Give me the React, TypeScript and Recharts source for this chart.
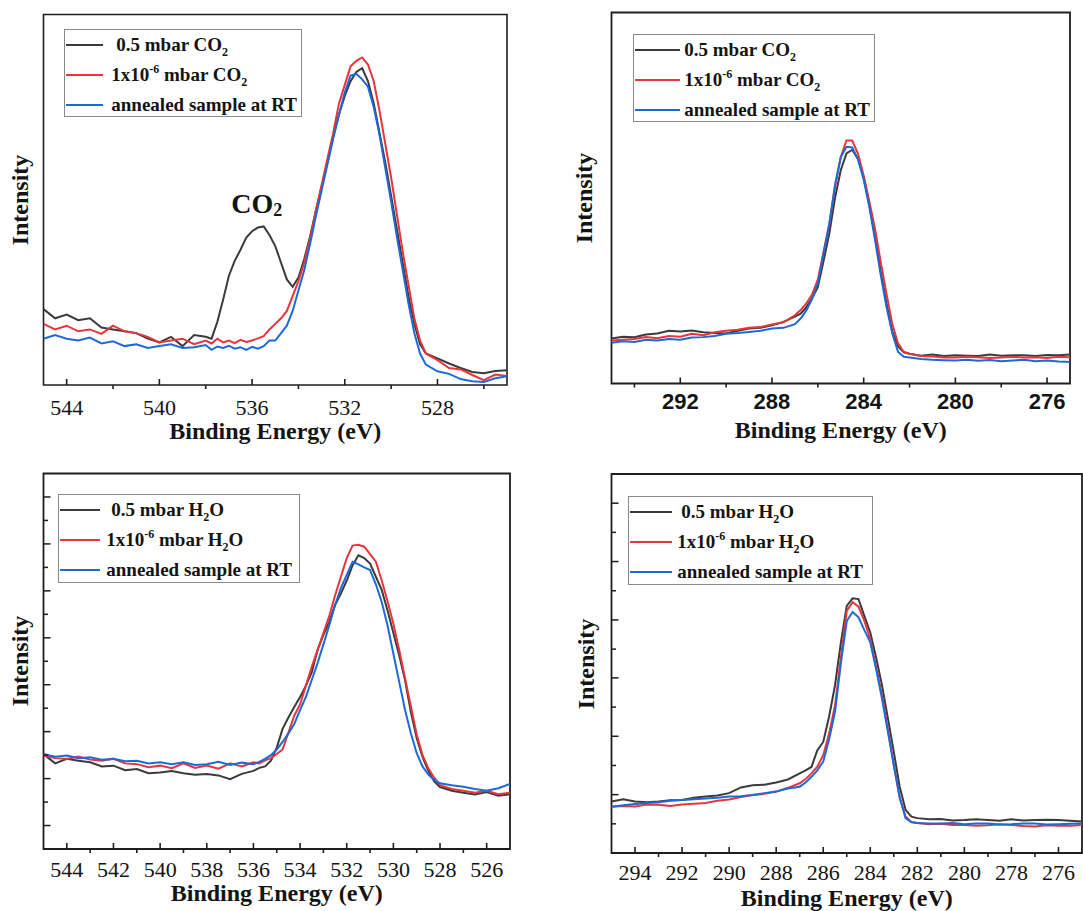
import type { ReactNode } from 'react'
import { LineChart, Line, XAxis, YAxis, ReferenceArea, ReferenceDot, Legend } from 'recharts'

const SERIF = '"Liberation Serif", "Times New Roman", Times, serif'
const SANS = '"Liberation Sans", Arial, Helvetica, sans-serif'
const INK = '#141414'
const FRAME = '#1e1e1e'
const COLORS = { high: '#3b3b3b', low: '#e8343b', ann: '#1d6ad6' }

// Binding energies in eV; intensities normalised to the frame height (0-100).

// O 1s, CO2 exposure
const o1sCo2Energy = [545, 544.5, 544, 543.5, 543, 542.5, 542, 541.5, 541, 540.5, 540, 539.5, 539, 538.5, 538,
  537.75, 537.5, 537.25, 537, 536.75, 536.5, 536.25, 536, 535.75, 535.5, 535.25, 535, 534.75, 534.5, 534.25, 534,
  533.75, 533.5, 533.25, 533, 532.75, 532.5, 532.25, 532, 531.75, 531.5, 531.25, 531, 530.75, 530.5, 530.25, 530,
  529.75, 529.5, 529.25, 529, 528.75, 528.5, 528, 527.5, 527, 526.5, 526, 525.5, 525]
const o1sCo2High = [20.5, 18.0, 19.0, 17.5, 18.0, 15.5, 15.0, 14.5, 14.0, 12.5, 11.5, 13.0, 10.5, 13.5, 13.0,
  12.5, 17.0, 23.0, 29.5, 33.5, 36.5, 39.8, 41.5, 42.5, 42.8, 40.5, 37.5, 33.0, 28.5, 26.5, 29.0,
  34.0, 40.0, 47.0, 53.5, 60.0, 67.0, 73.0, 78.0, 82.0, 84.5, 85.5, 82.0, 76.0, 68.0, 60.0, 51.0,
  42.0, 33.0, 24.0, 16.5, 11.0, 8.5, 7.2, 5.8, 4.6, 3.5, 3.2, 3.8, 4.0]
const o1sCo2Low = [16.5, 15.0, 16.0, 14.5, 15.0, 13.8, 16.0, 14.5, 14.0, 13.0, 11.5, 12.0, 12.5, 11.0, 12.0,
  11.2, 12.5, 11.5, 12.0, 11.3, 12.2, 11.6, 12.0, 12.6, 13.2, 15.0, 16.5, 18.0, 20.0, 24.0, 28.0,
  33.0, 39.5, 47.0, 54.0, 61.0, 68.0, 76.0, 81.0, 86.0, 87.5, 88.4, 86.5, 82.0, 74.0, 65.0, 56.0,
  46.0, 36.0, 27.0, 18.0, 12.0, 8.5, 6.7, 4.6, 4.2, 2.7, 1.3, 2.8, 2.4]
const o1sCo2Ann = [12.5, 13.5, 12.5, 12.0, 12.8, 11.2, 11.8, 10.5, 11.0, 10.0, 10.5, 11.0, 10.0, 10.2, 10.8,
  9.5, 10.4, 10.0, 10.6, 9.8, 10.2, 9.5, 10.3, 9.8, 10.5, 12.0, 12.0, 14.0, 16.0, 20.0, 25.5,
  31.0, 38.0, 45.5, 52.5, 59.5, 66.5, 73.0, 79.0, 83.5, 84.0, 82.5, 80.5, 75.0, 67.5, 58.5, 49.5,
  40.0, 31.0, 22.0, 14.0, 8.5, 5.5, 3.7, 3.0, 1.6, 1.0, 0.8, 1.8, 2.4]

// C 1s energy grid (shared by both gases)
const c1sEnergy = [295, 294.5, 294, 293.5, 293, 292.5, 292, 291.5, 291, 290.5, 290, 289.5, 289, 288.5, 288, 287.5, 287,
  286.75, 286.5, 286.25, 286, 285.75, 285.5, 285.25, 285, 284.75, 284.5, 284.25, 284, 283.75, 283.5, 283.25, 283,
  282.75, 282.5, 282.25, 282, 281.5, 281, 280.5, 280, 279.5, 279, 278.5, 278, 277.5, 277, 276.5, 276, 275.5, 275]

// C 1s, CO2 exposure
const c1sCo2High = [12.1, 12.6, 12.5, 13.2, 13.5, 14.2, 14.0, 14.3, 13.8, 13.6, 13.5, 14.2, 14.8, 15.0, 15.7, 16.6, 18.0,
  18.8, 20.6, 23.0, 26.0, 33.0, 40.4, 50.0, 57.5, 62.0, 63.0, 60.5, 55.5, 48.0, 39.5, 30.0, 21.5, 14.0, 10.0, 8.4,
  8.0, 7.5, 7.8, 7.4, 7.6, 7.5, 7.4, 7.8, 7.5, 7.6, 7.6, 7.4, 7.7, 7.6, 7.8]
const c1sCo2Low = [11.6, 11.8, 12.0, 12.5, 12.2, 12.8, 12.6, 13.4, 13.0, 13.8, 14.2, 14.5, 15.0, 15.2, 15.9, 16.5, 18.4,
  19.8, 21.6, 24.0, 28.0, 35.5, 43.0, 53.0, 61.0, 65.5, 65.5, 62.0, 56.0, 49.0, 41.5, 32.5, 24.0, 16.0, 10.8, 8.5,
  8.0, 7.4, 7.3, 7.0, 7.0, 7.2, 7.1, 6.9, 7.0, 7.2, 7.0, 7.1, 6.9, 7.2, 7.1]
const c1sCo2Ann = [11.0, 11.4, 11.2, 11.8, 11.6, 12.0, 11.8, 12.4, 12.5, 12.8, 13.4, 13.6, 13.9, 14.2, 14.8, 15.0, 16.0,
  17.5, 19.7, 22.8, 27.0, 35.0, 43.0, 53.5, 61.0, 63.8, 63.6, 60.5, 55.0, 47.5, 38.5, 29.0, 20.5, 13.5, 8.5, 7.2,
  7.0, 6.6, 6.4, 6.3, 6.2, 6.4, 6.1, 6.3, 6.0, 6.2, 6.4, 6.0, 6.2, 5.9, 5.8]

// O 1s, H2O exposure
const o1sH2oEnergy = [545, 544.5, 544, 543.5, 543, 542.5, 542, 541.5, 541, 540.5, 540, 539.5, 539, 538.5, 538, 537.5, 537, 536.5, 536,
  535.75, 535.5, 535.25, 535, 534.75, 534.5, 534.25, 534, 533.75, 533.5, 533.25, 533, 532.75, 532.5, 532.25, 532,
  531.75, 531.5, 531.25, 531, 530.75, 530.5, 530.25, 530, 529.75, 529.5, 529.25, 529, 528.75, 528.5, 528.25,
  528, 527.5, 527, 526.5, 526, 525.5, 525]
const o1sH2oHigh = [25.3, 22.8, 24.0, 23.5, 23.1, 22.0, 22.2, 21.0, 21.3, 20.2, 20.4, 20.8, 20.2, 19.8, 20.0, 19.6, 18.6, 20.0, 20.8,
  21.6, 22.0, 23.5, 27.0, 32.0, 35.0, 37.8, 40.5, 43.5, 47.0, 53.0, 57.0, 60.5, 65.0, 68.0, 71.5,
  75.5, 78.2, 77.5, 76.0, 72.5, 69.0, 63.5, 57.5, 51.5, 45.0, 36.5, 29.5, 24.5, 20.8, 18.0,
  16.5, 15.5, 15.0, 14.5, 15.2, 14.2, 14.6]
const o1sH2oLow = [24.9, 24.2, 24.0, 24.6, 23.8, 23.5, 24.0, 22.8, 22.6, 21.8, 22.2, 21.5, 22.8, 21.6, 22.2, 21.4, 22.8, 22.0, 23.1,
  22.8, 23.6, 24.2, 25.3, 26.5, 31.0, 35.5, 38.5, 43.5, 48.5, 53.0, 57.5, 62.0, 67.5, 72.5, 77.5,
  80.8, 81.0, 80.5, 78.5, 76.5, 71.5, 66.0, 60.0, 53.0, 45.5, 38.0, 30.5, 25.0, 21.5, 19.0,
  17.0, 16.0, 15.5, 15.0, 15.5, 14.6, 15.0]
const o1sH2oAnn = [25.3, 24.6, 24.9, 24.2, 24.4, 23.8, 24.0, 23.4, 23.5, 22.8, 23.1, 22.6, 23.1, 22.4, 22.6, 23.2, 22.4, 23.0, 22.6,
  23.2, 24.0, 25.0, 26.5, 28.5, 30.8, 33.3, 37.0, 40.5, 45.0, 49.5, 54.5, 59.5, 65.0, 69.5, 73.0,
  76.5, 75.8, 75.0, 74.3, 70.5, 65.8, 59.5, 52.0, 44.5, 37.0, 30.8, 25.5, 22.0, 19.8, 18.4,
  17.5, 17.0, 16.6, 16.0, 15.5, 16.2, 17.3]

// C 1s, H2O exposure
const c1sH2oHigh = [13.6, 14.2, 13.6, 13.4, 13.6, 13.9, 14.0, 14.6, 14.9, 15.2, 15.8, 17.3, 17.9, 18.0, 18.6, 19.4, 21.0,
  21.8, 22.7, 27.1, 29.3, 36.0, 44.2, 55.5, 65.2, 67.2, 67.0, 62.5, 58.2, 51.5, 44.2, 35.5, 26.7, 17.5, 11.4, 9.6,
  9.2, 8.9, 9.0, 8.6, 8.7, 8.9, 8.7, 8.5, 8.9, 8.6, 8.7, 8.8, 8.7, 8.5, 8.3]
const c1sH2oLow = [12.2, 12.4, 12.3, 12.8, 12.7, 12.4, 12.8, 13.0, 13.2, 13.8, 14.1, 14.8, 15.3, 15.6, 16.2, 17.2, 18.4,
  19.5, 21.0, 22.8, 25.8, 31.5, 38.9, 51.5, 63.9, 66.2, 65.0, 61.2, 56.4, 49.0, 41.6, 32.5, 23.2, 14.5, 9.6, 8.2,
  7.9, 7.6, 7.7, 7.4, 7.4, 7.2, 7.3, 7.6, 7.4, 7.1, 7.0, 7.3, 7.2, 7.2, 7.4]
const c1sH2oAnn = [12.2, 12.6, 12.9, 13.2, 13.4, 13.8, 14.0, 14.2, 14.4, 14.6, 14.9, 15.0, 15.3, 15.8, 16.2, 17.0, 17.5,
  18.6, 20.1, 21.8, 24.1, 30.0, 37.2, 50.0, 61.2, 63.6, 62.2, 58.8, 55.6, 48.5, 40.7, 32.0, 23.2, 14.8, 9.2, 8.1,
  7.9, 7.8, 7.8, 7.9, 7.6, 7.8, 7.8, 7.5, 7.6, 7.8, 7.8, 7.5, 7.6, 7.7, 7.8]

// axis ticks
const o1sMajorWide = [544, 540, 536, 532, 528]
const o1sMinorWide = [542, 538, 534, 530, 526]
const c1sMajorWide = [292, 288, 284, 280, 276]
const c1sMinorWide = [294, 290, 286, 282, 278]
const o1sMajor = [544, 542, 540, 538, 536, 534, 532, 530, 528, 526]
const o1sMinor = [543, 541, 539, 537, 535, 533, 531, 529, 527]
const c1sMajor = [294, 292, 290, 288, 286, 284, 282, 280, 278, 276]
const c1sMinor = [293, 291, 289, 287, 285, 283, 281, 279, 277]
const o1sH2oYMajor = [6.25, 18.75, 31.25, 43.75, 56.25, 68.75, 81.25, 93.75]
const o1sH2oYMinor = [12.5, 25, 37.5, 50, 62.5, 75, 87.5]
const c1sH2oYMajor = [15.4, 30.8, 46.2, 61.5, 76.9, 92.3]
const c1sH2oYMinor = [7.7, 23.1, 38.5, 53.8, 69.2, 84.6]

// gas-phase CO2 peak annotation (energy, intensity)
const co2PeakNote = { e: 535.8, v: 49 }

type Row = { e: number; high: number; low: number; ann: number }
const toRows = (e: number[], high: number[], low: number[], ann: number[]): Row[] =>
  e.map((v, i) => ({ e: v, high: high[i], low: low[i], ann: ann[i] }))

type Gas = 'CO2' | 'H2O'

const Sub = ({ children }: { children: ReactNode }) => (
  <span style={{ fontSize: 12, position: 'relative', top: 5 }}>{children}</span>
)
const Sup = ({ children }: { children: ReactNode }) => (
  <span style={{ fontSize: 12, position: 'relative', top: -8 }}>{children}</span>
)

function legendLabel(key: string, gas: Gas) {
  const g = gas === 'CO2' ? <>CO<Sub>2</Sub></> : <>H<Sub>2</Sub>O</>
  if (key === 'high') return <>0.5 mbar {g}</>
  if (key === 'low') return <>1x10<Sup>-6</Sup> mbar {g}</>
  return <>annealed sample at RT</>
}

type Box = { x: number; y: number; w: number; h: number; line: number; text: number; indent: number }

function LegendBox({ payload, box, gas }: any) {
  const b = box as Box
  return (
    <div style={{
      width: b.w, height: b.h, border: '1px solid #8a8a8a', boxSizing: 'border-box', position: 'relative',
      fontFamily: SERIF, fontWeight: 'bold', fontSize: 19, color: INK, lineHeight: '20px', background: '#fff',
    }}>
      {(payload ?? []).map((item: any, i: number) => (
        <div key={String(item.dataKey)} style={{ position: 'absolute', left: 0, top: 5 + i * 30, height: 20, width: '100%' }}>
          <div style={{ position: 'absolute', left: 1, top: 9, width: b.line, borderTop: `2.5px solid ${item.color}` }} />
          <div style={{ position: 'absolute', left: b.text + (i === 0 ? b.indent : 0), top: 0, whiteSpace: 'nowrap' }}>
            {legendLabel(String(item.dataKey), gas)}
          </div>
        </div>
      ))}
    </div>
  )
}

function XTick({ x, y, payload, majors, font, dy }: any) {
  const major = majors.includes(payload.value)
  return (
    <g>
      <line x1={x} x2={x} y1={y} y2={major ? y - 6 : y + 4} stroke={FRAME} strokeWidth={1.6} />
      {major && (
        <text x={x} y={y + dy} textAnchor="middle" dominantBaseline="central"
          fontFamily={font.family} fontSize={font.size} fontWeight={font.weight} fill={INK}>
          {payload.value}
        </text>
      )}
    </g>
  )
}

function YTick({ x, y, payload, majors }: any) {
  const len = majors.includes(payload.value) ? 7 : 4.5
  return <line x1={x} x2={x + len} y1={y} y2={y} stroke={FRAME} strokeWidth={1.5} />
}

function AxisTitle({ at, caption, vertical }: any) {
  const [x, y] = at
  return (
    <text x={x} y={y} textAnchor="middle" dominantBaseline="central"
      transform={vertical ? `rotate(-90 ${x} ${y})` : undefined}
      fontFamily={SERIF} fontWeight="bold" fontSize={24} fill={INK}>
      {caption}
    </text>
  )
}

function Co2Note({ viewBox }: any) {
  if (!viewBox) return null
  const x = viewBox.x + (viewBox.width ?? 0) / 2
  const y = viewBox.y + (viewBox.height ?? 0) / 2
  return (
    <text x={x} y={y} textAnchor="middle" dominantBaseline="central" fontFamily={SERIF} fontWeight="bold" fontSize={28} fill={INK}>
      CO<tspan fontSize={18} dy={7}>2</tspan>
    </text>
  )
}

type Font = { family: string; size: number; weight: string }

type PanelCfg = {
  left: number; top: number; width: number; height: number
  margin: { top: number; right: number; left: number }
  xAxisHeight: number
  domain: [number, number]
  xMajor: number[]; xMinor: number[]
  yMajor: number[]; yMinor: number[]
  tickFont: Font; tickDy: number
  xTitle: [number, number]; yTitle: [number, number]
  legend: Box
  frameWidth: number
}

// the y axis is 1px wide, so the plot's left edge sits at margin.left + 1
function Panel({ cfg, rows, gas, note }: { cfg: PanelCfg; rows: Row[]; gas: Gas; note?: boolean }) {
  const xTicks = [...cfg.xMajor, ...cfg.xMinor].sort((a, b) => a - b)
  const yTicks = [...cfg.yMajor, ...cfg.yMinor].sort((a, b) => a - b)
  const gasName = gas === 'CO2' ? 'CO₂' : 'H₂O'
  return (
    <div style={{ position: 'absolute', left: cfg.left, top: cfg.top }}>
      <LineChart width={cfg.width} height={cfg.height} data={rows}
        margin={{ top: cfg.margin.top, right: cfg.margin.right, left: cfg.margin.left - 1, bottom: 0 }}>
        <XAxis type="number" dataKey="e" domain={cfg.domain} reversed allowDataOverflow ticks={xTicks} interval={0}
          tickSize={0} tickMargin={0} axisLine={false} height={cfg.xAxisHeight}
          tick={(p: any) => <XTick {...p} majors={cfg.xMajor} font={cfg.tickFont} dy={cfg.tickDy} />}
          label={<AxisTitle at={cfg.xTitle} caption="Binding Energy (eV)" />} />
        <YAxis type="number" domain={[0, 100]} allowDataOverflow width={1} ticks={yTicks.length ? yTicks : [0]}
          interval={0} tickSize={0} tickMargin={0} axisLine={false}
          tick={yTicks.length ? (p: any) => <YTick {...p} majors={cfg.yMajor} /> : false}
          label={<AxisTitle at={cfg.yTitle} caption="Intensity" vertical />} />
        <ReferenceArea x1={cfg.domain[0]} x2={cfg.domain[1]} y1={0} y2={100} fill="none"
          stroke={FRAME} strokeWidth={cfg.frameWidth} />
        <Line type="linear" dataKey="high" name={`0.5 mbar ${gasName}`} stroke={COLORS.high} strokeWidth={2}
          dot={false} activeDot={false} isAnimationActive={false} />
        <Line type="linear" dataKey="low" name={`1x10⁻⁶ mbar ${gasName}`} stroke={COLORS.low} strokeWidth={2}
          dot={false} activeDot={false} isAnimationActive={false} />
        <Line type="linear" dataKey="ann" name="annealed sample at RT" stroke={COLORS.ann} strokeWidth={2}
          dot={false} activeDot={false} isAnimationActive={false} />
        {note && (
          <ReferenceDot x={co2PeakNote.e} y={co2PeakNote.v} r={0} fill="none" stroke="none" label={<Co2Note />} />
        )}
        <Legend layout="vertical" align="center" verticalAlign="middle"
          wrapperStyle={{ left: cfg.legend.x - cfg.left, top: cfg.legend.y - cfg.top, width: 'auto', height: 'auto' }}
          content={<LegendBox box={cfg.legend} gas={gas} />} />
      </LineChart>
    </div>
  )
}

const serifTicks: Font = { family: SERIF, size: 22, weight: 'normal' }
const sansTicks: Font = { family: SANS, size: 22, weight: 'bold' }

const o1sCo2Cfg: PanelCfg = {
  left: 0, top: 0, width: 540, height: 450,
  margin: { top: 14.5, right: 33, left: 43.5 }, xAxisHeight: 65,
  domain: [525, 545], xMajor: o1sMajorWide, xMinor: o1sMinorWide, yMajor: [], yMinor: [],
  tickFont: serifTicks, tickDy: 22, xTitle: [275.25, 431], yTitle: [20, 200],
  legend: { x: 64.3, y: 29.3, w: 238, h: 88, line: 37, text: 46, indent: 5 },
  frameWidth: 1.6,
}
const c1sCo2Cfg: PanelCfg = {
  left: 540, top: 0, width: 543, height: 450,
  margin: { top: 12.5, right: 13, left: 71.5 }, xAxisHeight: 66.5,
  domain: [275, 295], xMajor: c1sMajorWide, xMinor: c1sMinorWide, yMajor: [], yMinor: [],
  tickFont: sansTicks, tickDy: 18, xTitle: [300.75, 430], yTitle: [44, 198],
  legend: { x: 633.3, y: 34.3, w: 242, h: 88, line: 45, text: 50, indent: 0 },
  frameWidth: 1.8,
}
const o1sH2oCfg: PanelCfg = {
  left: 0, top: 455, width: 540, height: 456,
  margin: { top: 18.5, right: 30, left: 43.5 }, xAxisHeight: 62,
  domain: [525, 545], xMajor: o1sMajor, xMinor: o1sMinor, yMajor: o1sH2oYMajor, yMinor: o1sH2oYMinor,
  tickFont: serifTicks, tickDy: 20, xTitle: [276.75, 438], yTitle: [20, 206],
  legend: { x: 58.3, y: 494.3, w: 242, h: 88.5, line: 40, text: 47, indent: 5 },
  frameWidth: 1.8,
}
const c1sH2oCfg: PanelCfg = {
  left: 540, top: 455, width: 543, height: 456,
  margin: { top: 19, right: 1, left: 71.5 }, xAxisHeight: 58,
  domain: [275, 295], xMajor: c1sMajor, xMinor: c1sMinor, yMajor: c1sH2oYMajor, yMinor: c1sH2oYMinor,
  tickFont: serifTicks, tickDy: 19, xTitle: [306.75, 442.5], yTitle: [46, 209],
  legend: { x: 628.3, y: 496, w: 245, h: 89, line: 42, text: 48, indent: 4 },
  frameWidth: 1.8,
}

export default function App() {
  return (
    <div style={{ position: 'absolute', left: 0, top: 0, width: 1083, height: 911, background: '#fff', overflow: 'hidden' }}>
      <Panel cfg={o1sCo2Cfg} rows={toRows(o1sCo2Energy, o1sCo2High, o1sCo2Low, o1sCo2Ann)} gas="CO2" note />
      <Panel cfg={c1sCo2Cfg} rows={toRows(c1sEnergy, c1sCo2High, c1sCo2Low, c1sCo2Ann)} gas="CO2" />
      <Panel cfg={o1sH2oCfg} rows={toRows(o1sH2oEnergy, o1sH2oHigh, o1sH2oLow, o1sH2oAnn)} gas="H2O" />
      <Panel cfg={c1sH2oCfg} rows={toRows(c1sEnergy, c1sH2oHigh, c1sH2oLow, c1sH2oAnn)} gas="H2O" />
    </div>
  )
}
